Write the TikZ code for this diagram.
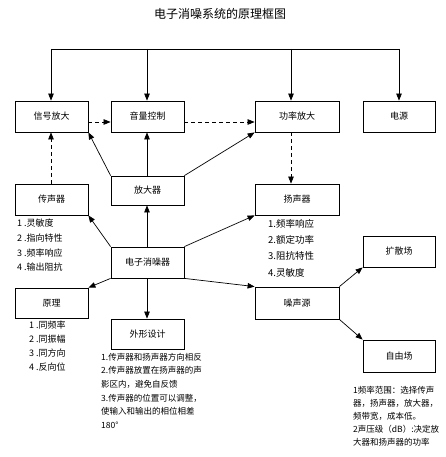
\documentclass[tikz,border=0pt]{standalone}
\usepackage{fontspec}
\setmainfont{Noto Sans CJK SC}
\usetikzlibrary{arrows.meta,calc}
\begin{document}
\begin{tikzpicture}[x=1pt,y=-1pt,
  box/.style={draw,line width=0.8pt,inner sep=0pt,font=\fontsize{9}{11}\selectfont},
  arr/.style={line width=0.7pt,-{Triangle[length=7pt,width=5.5pt]}},
  dsh/.style={arr,dash pattern=on 4pt off 3pt},
  lst/.style={anchor=north west,inner sep=0pt,align=left}]
\useasboundingbox (0,0) rectangle (445,457);
\node (title) at (220,14) {\fontsize{12}{14}\selectfont 电子消噪系统的原理框图};
% boxes
\node[box,minimum width=73pt,minimum height=31pt] (sig) at (51.5,116.5) {信号放大};
\node[box,minimum width=73pt,minimum height=31pt] (vol) at (147.5,116.5) {音量控制};
\node[box,minimum width=84pt,minimum height=31pt] (pow) at (297,116.5) {功率放大};
\node[box,minimum width=72pt,minimum height=31pt] (psu) at (399,116.5) {电源};
\node[box,minimum width=73pt,minimum height=31pt] (mic) at (51.5,199.5) {传声器};
\node[box,minimum width=73pt,minimum height=29pt] (amp) at (147.5,190.5) {放大器};
\node[box,minimum width=84pt,minimum height=31pt] (spk) at (297,199.5) {扬声器};
\node[box,minimum width=73pt,minimum height=31pt] (enc) at (147.5,262.5) {电子消噪器};
\node[box,minimum width=72pt,minimum height=31pt] (dif) at (399,251.5) {扩散场};
\node[box,minimum width=73pt,minimum height=30pt] (prin) at (51.5,303) {原理};
\node[box,minimum width=73pt,minimum height=30pt] (shp) at (147.5,334) {外形设计};
\node[box,minimum width=84pt,minimum height=32pt] (noise) at (297,303) {噪声源};
\node[box,minimum width=72pt,minimum height=32pt] (free) at (399,356) {自由场};
% top bus
\coordinate (t1) at (51,49);
\coordinate (t2) at (147,49);
\coordinate (t3) at (291,49);
\coordinate (t4) at (399,49);
\coordinate (dy) at (0,122);
\draw[line width=0.7pt] (t1) -- (t4);
\draw[arr] (t1) -- (t1 |- sig.north);
\draw[arr] (t2) -- (t2 |- vol.north);
\draw[arr] (t3) -- (t3 |- pow.north);
\draw[arr] (t4) -- (t4 |- psu.north);
% dashed signal chain
\draw[dsh] (sig.east |- dy) -- (vol.west |- dy);
\draw[dsh] (vol.east |- dy) -- (pow.west |- dy);
\draw[dsh] (mic.north -| t1) -- (sig.south -| t1);
\draw[dsh] (pow.south -| t3) -- (spk.north -| t3);
% amplifier
\draw[arr] (amp.north west) -- (sig.south east);
\draw[arr] (amp.north -| t2) -- (vol.south -| t2);
\draw[arr] (amp.north east) -- (pow.south west);
% canceller
\draw[arr] (enc.north -| t2) -- (amp.south -| t2);
\draw[arr] (enc.north west) -- (mic.south east);
\draw[arr] (enc.north east) -- (spk.south west);
\draw[arr] (enc.south west) -- (prin.north east);
\draw[arr] (enc.south -| t2) -- (shp.north -| t2);
\draw[arr] (enc.south east) -- (noise.north west);
% noise source
\draw[arr] (noise.north east) -- (dif.south west);
\draw[arr] (noise.south east) -- (free.north west);
% lists
\node[lst,font=\fontsize{9}{14.7}\selectfont] (lmic) at (17,219) {1 .灵敏度\\2 .指向特性\\3 .频率响应\\4 .输出阻抗};
\node[lst,font=\fontsize{9.5}{16.3}\selectfont] (lspk) at (268,219) {1.频率响应\\2.额定功率\\3.阻抗特性\\4.灵敏度};
\node[lst,font=\fontsize{9}{14}\selectfont] (lprin) at (29,321) {1 .同频率\\2 .同振幅\\3 .同方向\\4 .反向位};
\node[lst,font=\fontsize{8.5}{13.6}\selectfont] (lshp) at (101,353) {1.传声器和扬声器方向相反\\2.传声器放置在扬声器的声\\影区内，避免自反馈\\3.传声器的位置可以调整，\\使输入和输出的相位相差\\180°};
\node[lst,font=\fontsize{8.5}{13}\selectfont] (lfree) at (353,386) {1频率范围：选择传声\\器，扬声器，放大器，\\频带宽，成本低。\\2声压级（dB）:决定放\\大器和扬声器的功率};
\end{tikzpicture}
\end{document}
